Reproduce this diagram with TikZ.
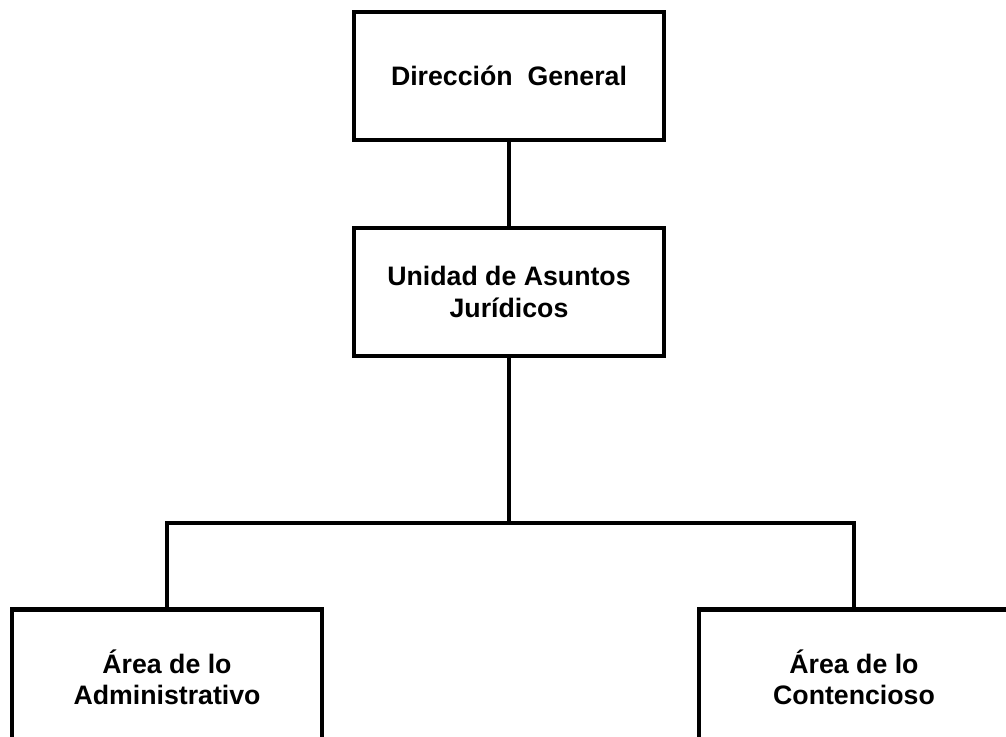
\documentclass[tikz,border=0pt]{standalone}
\usepackage{fontspec}
\setmainfont{Liberation Sans}
\usetikzlibrary{positioning}

\begin{document}
\begin{tikzpicture}[
    x=0.02cm, y=-0.02cm,
    node distance=1.68cm,
    orgbox/.style={rectangle, draw, line width=2.3pt, minimum width=6.2cm, minimum height=2.56cm, align=center, font=\bfseries\fontsize{15.2}{17.8}\selectfont},
    link/.style={line width=2.3pt}
]
\useasboundingbox (0,0) rectangle (1006,736);
\clip (0,0) rectangle (1006,736);

\node[orgbox] (dir) at (509,76) {Direcci\'on\ \ General};
\node[orgbox, below=of dir] (uaj) {Unidad de Asuntos\\Jur\'idicos};
\node[orgbox, minimum height=2.7cm] (adm) at (167,677) {\'Area de lo\\Administrativo};
\node[orgbox, minimum height=2.7cm] (con) at (854,677) {\'Area de lo\\Contencioso};
\coordinate (bus) at (uaj.south |- 0,523);

\draw[link] (dir) -- (uaj);
\draw[link] (uaj.south) -- (bus);
\draw[link] (bus) -| (adm.north);
\draw[link] (bus) -| (con.north);

\end{tikzpicture}
\end{document}
